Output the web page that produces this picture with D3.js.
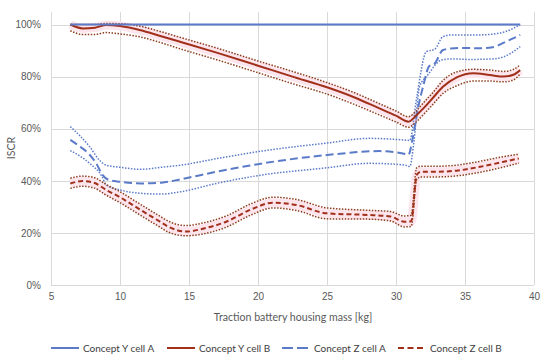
<!DOCTYPE html>
<html>
<head>
<meta charset="UTF-8">
<title></title>
<style>
  body { margin: 0; background: #fff; font-family: Lato, 'Open Sans', sans-serif; }
  .grid line { stroke: #d9d9d9; stroke-width: 1; shape-rendering: crispEdges; }
  .tick text, .label { fill: #595959; font-size: 10px; }
  .legend text { fill: #404040; font-size: 10px; }
</style>
</head>
<body>
<script src="https://d3js.org/d3.v7.min.js"></script>
<script>
// ---- data (ISCR in %, mass in kg) ----
var xTicks = [5, 10, 15, 20, 25, 30, 35, 40];
var yTicks = [0, 20, 40, 60, 80, 100];

// Concept Y cell A
var yaX = [6.4, 39];
var yaMid = [100, 100];

// Concept Y cell B
var ybX   = [6.4, 7.3, 8.2, 9.0, 10, 11.5, 12.8, 14.4, 17, 20, 22.5, 25, 27, 28.8, 30, 30.9, 31.5, 32, 32.7, 33.4, 34.4, 35.6, 36.8, 37.8, 38.5, 39];
var ybMid = [100, 98.5, 98.8, 99.8, 99.4, 97.8, 95.8, 93.3, 89.2, 84.2, 80, 75.9, 72, 67.8, 65, 62.7, 65.3, 67.9, 72, 76.1, 79.7, 81.3, 80.6, 80, 80.7, 82.5];
var ybHi  = [100, 100, 100, 100.4, 100.3, 99.3, 97.5, 95.0, 91.0, 86, 82, 77.7, 73.8, 69.6, 66.8, 64.6, 67, 70, 74, 78.5, 81.8, 82.8, 82.5, 82, 82.8, 84.5];
var ybLo  = [97.6, 96.2, 96.2, 96.9, 96.4, 95.2, 93.3, 90.6, 86.5, 81.5, 77.3, 73.3, 69.3, 65.3, 62.6, 60.6, 62.8, 65.5, 69.5, 73.5, 76.5, 78.3, 78.3, 78, 78.7, 81];

// Concept Z cell A
var zaX   = [6.4, 7.0, 7.8, 8.3, 8.7, 9.2, 10, 11.5, 13, 14.4, 17, 20, 25, 28.8, 30.5, 30.9, 31.2, 31.6, 32, 32.4, 32.8, 33.4, 34, 35, 36, 37, 38, 39];
var zaMid = [55.7, 53.5, 50, 46.5, 42.5, 40.3, 39.6, 39, 39.3, 40.6, 43.5, 46.4, 49.9, 51.4, 50.5, 50, 56, 68, 77, 84, 85, 90.2, 90.8, 91, 90.9, 91.3, 93.5, 96];
var zaHiX = [6.4, 7.8, 8.5, 9.0, 10, 11.5, 13, 14.4, 17, 20, 25, 28.1, 30.5, 31.0, 31.5, 32.2, 32.8, 33.4, 34, 36, 37, 38.3, 39];
var zaHi  = [60.8, 53.1, 48, 46, 45.2, 44.4, 45.2, 46, 48.5, 51.2, 54.5, 56.3, 55.7, 55.5, 72, 89.6, 90.5, 95.3, 96, 96, 96.3, 98, 100];
var zaLoX = [6.4, 7.8, 8.7, 9.0, 10, 11.5, 13, 14.4, 17, 20, 25, 28.1, 30.6, 31.0, 31.3, 31.7, 32.3, 33.3, 34, 35.4, 37, 37.8, 39];
var zaLo  = [51.6, 46.7, 41.6, 38.4, 36.5, 35.2, 34.9, 35.8, 39, 42, 45, 46.7, 46.1, 45.5, 55, 76, 80.6, 86.4, 86.8, 86.6, 86.8, 87.6, 91.5];

// Concept Z cell B
var zbX   = [6.4, 7.3, 8.1, 9.0, 10, 11.5, 12.9, 13.5, 14.8, 16, 17.7, 19.5, 21.1, 22.8, 25, 27.9, 29.6, 30.6, 31.1, 31.5, 31.8, 32.9, 34.4, 36.1, 37.8, 38.9];
var zbMid = [39.0, 39.9, 39.3, 36.5, 33.7, 28.8, 24.3, 22.4, 20.5, 21.6, 24.3, 29, 31.6, 30.7, 27.5, 26.9, 26.3, 24.3, 24.5, 42.2, 43.5, 43.5, 43.9, 45.4, 47.3, 48.6];
var zbHi  = [41.0, 41.8, 41.3, 38.6, 35.8, 30.9, 26.4, 24.5, 22.8, 23.8, 26.5, 31.2, 33.7, 32.8, 29.6, 28.7, 28.2, 26.5, 26.8, 45.0, 45.6, 45.6, 46.0, 47.5, 49.3, 50.2];
var zbLo  = [37.1, 37.9, 37.3, 34.5, 31.6, 26.7, 22.2, 20.3, 18.9, 19.6, 22.2, 26.9, 29.6, 28.6, 25.4, 25.3, 24.6, 22.3, 22.5, 40.5, 41.5, 41.5, 41.9, 43.3, 45.3, 46.8];

var legendNames = ["Concept Y cell A", "Concept Y cell B", "Concept Z cell A", "Concept Z cell B"];

// ---- layout ----
var W = 550, H = 358;
var blue = "#5b7bc9", red = "#a0301a", redDot = "#8c3d1c";

var svg = d3.select("body").append("svg")
    .attr("width", W).attr("height", H);

var x = d3.scaleLinear().domain([5, 40]).range([51, 534]);
var y = d3.scaleLinear().domain([0, 105]).range([285, 11.5]);

// gridlines
var grid = svg.append("g").attr("class", "grid");
grid.selectAll(".v").data(xTicks).enter().append("line")
    .attr("x1", function(d) { return Math.round(x(d)) + 0.5; })
    .attr("x2", function(d) { return Math.round(x(d)) + 0.5; })
    .attr("y1", y(105)).attr("y2", y(0));
grid.selectAll(".h").data(yTicks).enter().append("line")
    .attr("x1", x(5)).attr("x2", x(40))
    .attr("y1", function(d) { return Math.round(y(d)) + 0.5; })
    .attr("y2", function(d) { return Math.round(y(d)) + 0.5; });

// axes (labels only)
svg.append("g").attr("transform", "translate(0,291)")
    .call(d3.axisBottom(x).tickValues(xTicks).tickSize(0).tickPadding(2));
svg.append("g").attr("transform", "translate(43,0)")
    .call(d3.axisLeft(y).tickValues(yTicks).tickSize(0).tickPadding(2)
        .tickFormat(function(d) { return d + "%"; }));
svg.selectAll(".domain").remove();
svg.selectAll(".tick text").style("font-size", "10px").attr("fill", "#595959");

svg.append("text").attr("class", "label")
    .attr("x", 293).attr("y", 321).attr("text-anchor", "middle")
    .style("font-size", "10.6px")
    .text("Traction battery housing mass [kg]");
svg.append("text").attr("class", "label")
    .attr("transform", "translate(15,148) rotate(-90)")
    .attr("text-anchor", "middle")
    .style("font-size", "10.6px")
    .text("ISCR");

// series
var line = d3.line()
    .x(function(d) { return x(d[0]); })
    .y(function(d) { return y(d[1]); })
    .curve(d3.curveMonotoneX);

function pts(xs, ys) { return xs.map(function(v, i) { return [v, ys[i]]; }); }

var plot = svg.append("g");

function draw(xs, ys, color, width, dash, halo) {
    if (halo) {
        plot.append("path").attr("d", line(pts(xs, ys)))
            .attr("fill", "none").attr("stroke", "#fde5ed").attr("stroke-width", 9)
            .attr("stroke-linejoin", "round");
        return;
    }
    plot.append("path").attr("d", line(pts(xs, ys)))
        .attr("fill", "none").attr("stroke", color).attr("stroke-width", width)
        .attr("stroke-dasharray", dash);
}

// halos first so lines lie on top
draw(ybX, ybMid, null, 0, null, true);
draw(zbX, zbMid, null, 0, null, true);

draw(zaHiX, zaHi, blue, 1.5, "1.5,1.5");
draw(zaLoX, zaLo, blue, 1.5, "1.5,1.5");
draw(zaX, zaMid, blue, 2, "8,4");

draw(zbX, zbHi, redDot, 1.5, "1.5,1.5");
draw(zbX, zbLo, redDot, 1.5, "1.5,1.5");
draw(zbX, zbMid, red, 2, "5,3");

draw(ybX, ybHi, redDot, 1.5, "1.5,1.5");
draw(ybX, ybLo, redDot, 1.5, "1.5,1.5");
draw(ybX, ybMid, red, 2, null);

draw(yaX, yaMid, blue, 2, null);

// legend
var legendStyle = [
    { color: blue, dash: null, x: 51 },
    { color: red, dash: null, x: 167 },
    { color: blue, dash: "11,4", x: 282 },
    { color: red, dash: "6,3.5", x: 398 }
];
var lg = svg.append("g").attr("class", "legend");
legendNames.forEach(function(name, i) {
    var s = legendStyle[i];
    lg.append("line")
        .attr("x1", s.x).attr("x2", s.x + 28)
        .attr("y1", 348).attr("y2", 348)
        .attr("stroke", s.color).attr("stroke-width", 2)
        .attr("stroke-dasharray", s.dash);
    lg.append("text")
        .attr("x", s.x + 32).attr("y", 351.5)
        .text(name);
});
</script>
</body>
</html>
